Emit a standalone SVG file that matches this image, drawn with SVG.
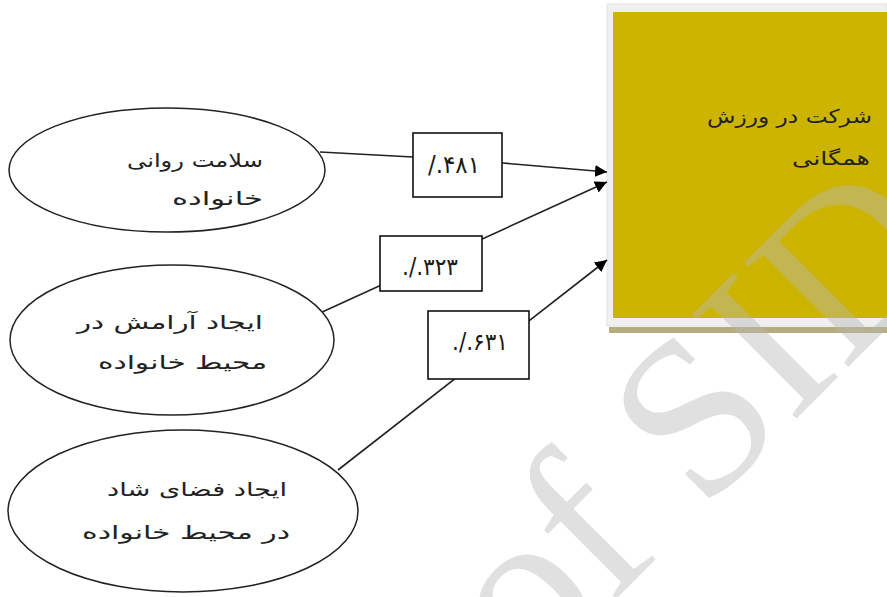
<svg xmlns="http://www.w3.org/2000/svg" width="887" height="597" viewBox="0 0 887 597">
<defs>
<marker id="arr" viewBox="0 0 10 10" refX="10" refY="5" markerWidth="12" markerHeight="12" markerUnits="userSpaceOnUse" orient="auto">
<path d="M0,0 L10,5 L0,10 Z" fill="#000"/>
</marker>
</defs>
<style>
.ell{fill:#fff;stroke:#222;stroke-width:1.5}
.lbl{fill:#fff;stroke:#111;stroke-width:1.6}
.con{fill:none;stroke:#222;stroke-width:1.6;marker-end:url(#arr)}
.fa{font-family:"DejaVu Sans","Noto Sans",sans-serif;font-size:19px;fill:#222}
.num{font-family:"DejaVu Sans",sans-serif;font-size:24px;fill:#1a1a1a}
</style>
<rect width="887" height="597" fill="#fff"/>
<g id="target">
<rect x="609" y="327" width="278" height="6" fill="#b6ad7e"/>
<rect x="607" y="4" width="280" height="322" fill="#f0f0f0" stroke="#e4e4e4" stroke-width="1"/>
<rect x="613" y="12" width="274" height="306" fill="#ccb400"/>
<text class="fa" x="707" y="123" textLength="165" lengthAdjust="spacingAndGlyphs">شرکت در ورزش</text>
<text class="fa" x="792" y="165" textLength="78" lengthAdjust="spacingAndGlyphs">همگانی</text>
</g>
<g id="connectors">
<polyline class="con" points="320,152 413,157 503,163 607,172"/>
<line class="con" x1="320" y1="313" x2="607" y2="182"/>
<line class="con" x1="338" y1="470" x2="607" y2="260"/>
</g>
<g id="n1">
<ellipse class="ell" cx="167" cy="170" rx="158" ry="62"/>
<text class="fa" x="127" y="167" textLength="136" lengthAdjust="spacingAndGlyphs">سلامت روانی</text>
<text class="fa" x="172" y="205" textLength="91" lengthAdjust="spacingAndGlyphs">خانواده</text>
</g>
<g id="n2">
<ellipse class="ell" cx="172" cy="340" rx="162" ry="75"/>
<text class="fa" x="77" y="329" textLength="186" lengthAdjust="spacingAndGlyphs">ایجاد آرامش در</text>
<text class="fa" x="98" y="369" textLength="169" lengthAdjust="spacingAndGlyphs">محیط خانواده</text>
</g>
<g id="n3">
<ellipse class="ell" cx="183" cy="511" rx="175" ry="81"/>
<text class="fa" x="107" y="496" textLength="180" lengthAdjust="spacingAndGlyphs">ایجاد فضای شاد</text>
<text class="fa" x="82" y="539" textLength="208" lengthAdjust="spacingAndGlyphs">در محیط خانواده</text>
</g>
<g id="w1">
<rect class="lbl" x="413" y="133" width="89" height="64"/>
<text class="num" x="428" y="173" textLength="52" lengthAdjust="spacingAndGlyphs" direction="ltr">/.۴۸۱</text>
</g>
<g id="w2">
<rect class="lbl" x="380" y="236" width="102" height="55"/>
<text class="num" x="402" y="275" textLength="56" lengthAdjust="spacingAndGlyphs" direction="ltr">./.۳۲۳</text>
</g>
<g id="w3">
<rect class="lbl" x="428" y="311" width="101" height="68"/>
<text class="num" x="452" y="350" textLength="56" lengthAdjust="spacingAndGlyphs" direction="ltr">./.۶۳۱</text>
</g>
<text x="530" y="685" transform="rotate(-45 530 685)" font-family="Liberation Serif,serif" font-size="225" fill="#b8b8b8" fill-opacity="0.43">of SID</text>
</svg>
